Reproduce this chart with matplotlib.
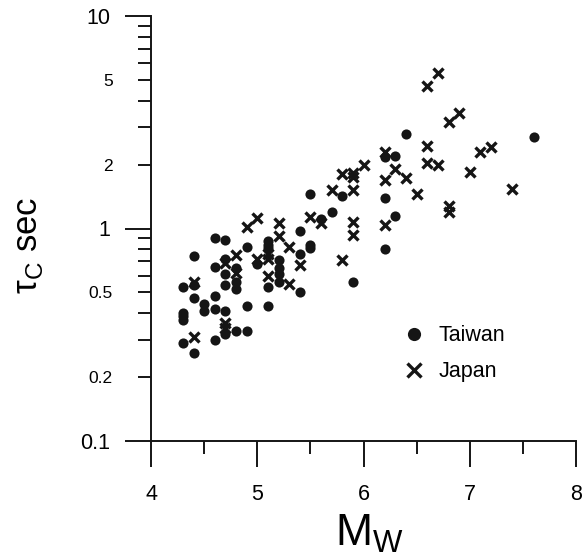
import numpy as np
import matplotlib.pyplot as plt
from matplotlib.ticker import FixedLocator, FuncFormatter, NullFormatter

plt.rcParams["font.family"] = ["Liberation Sans", "DejaVu Sans"]
plt.rcParams["mathtext.fontset"] = "custom"
plt.rcParams["mathtext.rm"] = "Liberation Sans"

# Taiwan events (magnitude, tau_c in s)
taiwan_mw = [4.3, 4.3, 4.3, 4.3, 4.3,
             4.4, 4.4, 4.4, 4.4,
             4.5, 4.5,
             4.6, 4.6, 4.6, 4.6, 4.6,
             4.7, 4.7, 4.7, 4.7, 4.7, 4.7,
             4.8, 4.8, 4.8, 4.8,
             4.9, 4.9, 4.9,
             5.0,
             5.1, 5.1, 5.1, 5.1, 5.1,
             5.2, 5.2, 5.2, 5.2,
             5.4, 5.4, 5.4,
             5.5, 5.5, 5.5,
             5.6, 5.7, 5.8, 5.9,
             6.2, 6.2, 6.2,
             6.3, 6.3,
             6.4, 7.6]
taiwan_tau = [0.53, 0.40, 0.386, 0.37, 0.29,
              0.74, 0.54, 0.47, 0.26,
              0.44, 0.41,
              0.90, 0.66, 0.48, 0.42, 0.30,
              0.88, 0.72, 0.61, 0.54, 0.41, 0.32,
              0.65, 0.56, 0.52, 0.33,
              0.82, 0.43, 0.33,
              0.68,
              0.87, 0.84, 0.81, 0.53, 0.43,
              0.71, 0.65, 0.61, 0.56,
              0.97, 0.76, 0.50,
              1.45, 0.84, 0.81,
              1.11, 1.20, 1.42, 0.56,
              2.17, 1.39, 0.80,
              2.20, 1.15,
              2.77, 2.70]

# Japan events
japan_mw = [4.4, 4.4,
            4.7, 4.7, 4.7,
            4.8, 4.8,
            4.9,
            5.0, 5.0,
            5.1, 5.1, 5.1,
            5.2, 5.2,
            5.3, 5.3,
            5.4, 5.5, 5.6, 5.7,
            5.8, 5.8,
            5.9, 5.9, 5.9, 5.9, 5.9,
            6.0,
            6.2, 6.2, 6.2,
            6.3, 6.4, 6.5,
            6.6, 6.6, 6.6,
            6.7, 6.7,
            6.8, 6.8, 6.8,
            6.9, 7.0, 7.1, 7.2, 7.4]
japan_tau = [0.56, 0.31,
             0.69, 0.36, 0.34,
             0.75, 0.62,
             1.02,
             1.12, 0.72,
             0.76, 0.72, 0.60,
             1.06, 0.92,
             0.82, 0.55,
             0.67, 1.13, 1.06, 1.52,
             1.81, 0.71,
             1.82, 1.74, 1.51, 1.07, 0.93,
             2.00,
             2.28, 1.70, 1.04,
             1.90, 1.72, 1.45,
             4.68, 2.45, 2.04,
             5.42, 1.99,
             3.17, 1.27, 1.20,
             3.50, 1.85, 2.28, 2.42, 1.54]

x_major = [4, 5, 6, 7, 8]
x_minor = [4.5, 5.5, 6.5, 7.5]
y_major = [0.1, 1, 10]
y_minor = [0.2, 0.3, 0.4, 0.5, 0.6, 0.7, 0.8, 0.9,
           2, 3, 4, 5, 6, 7, 8, 9]
y_minor_labels = {0.2: "0.2", 0.5: "0.5", 2.0: "2", 5.0: "5"}

fig = plt.figure(figsize=(5.88, 5.58), dpi=100)
ax = fig.add_axes([151 / 588, 1 - 441 / 558, 425 / 588, 425 / 558])

dark = "#151515"
ax.plot(taiwan_mw, taiwan_tau, linestyle="none", marker="o",
        markersize=7.3, color=dark, markeredgewidth=0, label="Taiwan")
ax.plot(japan_mw, japan_tau, linestyle="none", marker="x",
        markersize=7.5, color=dark, markeredgewidth=2.4, label="Japan")

ax.set_yscale("log")
ax.set_xlim(4, 8)
ax.set_ylim(0.1, 10)

for side in ["top", "right"]:
    ax.spines[side].set_visible(False)
for side in ["left", "bottom"]:
    ax.spines[side].set_linewidth(1.4)
    ax.spines[side].set_color(dark)

ax.xaxis.set_major_locator(FixedLocator(x_major))
ax.xaxis.set_minor_locator(FixedLocator(x_minor))
ax.xaxis.set_minor_formatter(NullFormatter())
ax.yaxis.set_major_locator(FixedLocator(y_major))
ax.yaxis.set_minor_locator(FixedLocator(y_minor))
ax.yaxis.set_major_formatter(FuncFormatter(lambda v, p: "%g" % v))
ax.yaxis.set_minor_formatter(
    FuncFormatter(lambda v, p: y_minor_labels.get(round(v, 1), "")))

ax.tick_params(axis="x", which="major", direction="out", length=18.7,
               width=1.4, pad=12.5, labelsize=15.5, color=dark)
ax.tick_params(axis="x", which="minor", direction="out", length=9.4,
               width=1.4, color=dark)
ax.tick_params(axis="y", which="major", direction="out", length=18.7,
               width=1.4, pad=10.5, labelsize=15.5, color=dark)
ax.tick_params(axis="y", which="minor", direction="out", length=9.4,
               width=1.4, pad=18, labelsize=12.5, color=dark)

ax.set_xlabel(r"$\mathregular{M_W}$", fontsize=32)
ax.xaxis.set_label_coords(0.515, -0.17)
ax.set_ylabel(r"τ$_\mathregular{C}$ sec", fontsize=25, va="center")
ax.yaxis.set_label_coords(-0.289, 0.46)

ax.legend(loc="center left", bbox_to_anchor=(0.593, 0.205),
          frameon=False, fontsize=15.5, markerscale=1.3,
          handlelength=1.0, handletextpad=0.65, labelspacing=0.7,
          borderpad=0, borderaxespad=0)

fig.savefig("out.png", dpi=100)
